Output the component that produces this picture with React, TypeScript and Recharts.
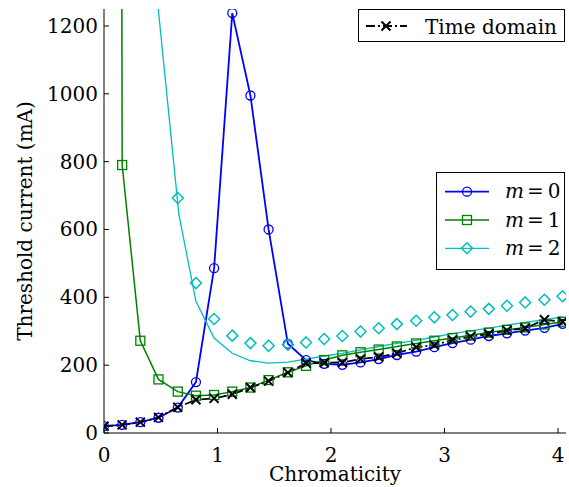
import React from "react";
import { LineChart, Line, XAxis, YAxis } from "recharts";

// ---- data ----
const xs = [0, 0.16, 0.32, 0.48, 0.65, 0.81, 0.97, 1.13, 1.29, 1.45, 1.62, 1.78, 1.94, 2.1, 2.26, 2.42, 2.58, 2.75, 2.91, 3.07, 3.23, 3.39, 3.55, 3.71, 3.88, 4.04];
const timeDomain = [20, 24, 32, 46, 76, 98, 102, 114, 134, 153, 178, 206, 207, 208, 218, 224, 235, 253, 259, 274, 284, 292, 302, 309, 334, 328];
const m0 = [20, 24, 32, 45, 75, 150, 486, 1238, 995, 600, 263, 215, 204, 201, 208, 218, 230, 240, 253, 265, 275, 286, 294, 302, 310, 322];
const m1 = [30000, 790, 272, 158, 122, 110, 112, 122, 134, 156, 179, 198, 215, 229, 238, 246, 255, 264, 272, 280, 288, 296, 304, 311, 320, 328];
const m2LineX = [0.45, 0.66, 0.81, 0.97, 1.13, 1.29, 1.45, 1.62, 1.78, 1.94, 2.1, 2.26, 2.42, 2.58, 2.75, 2.91, 3.07, 3.23, 3.39, 3.55, 3.71, 3.88, 4.04];
const m2Line = [1343, 644, 388, 280, 235, 213, 206, 209, 218, 227, 235, 245, 255, 264, 273, 283, 293, 301, 309, 318, 326, 334, 342];
const m2PointsX = [0.65, 0.81, 0.97, 1.13, 1.29, 1.45, 1.62, 1.78, 1.94, 2.1, 2.26, 2.42, 2.58, 2.75, 2.91, 3.07, 3.23, 3.39, 3.55, 3.71, 3.88, 4.04];
const m2Points = [693, 442, 336, 287, 265, 257, 260, 267, 277, 286, 299, 309, 321, 331, 341, 348, 358, 366, 375, 385, 393, 403];
const xTicks = [0, 1, 2, 3, 4];
const yTicks = [0, 200, 400, 600, 800, 1000, 1200];
const legendLabels = ["0", "1", "2"];

const BLUE = "#0000ff";
const GREEN = "#008000";
const CYAN = "#00bfbf";
const BLACK = "#000000";
const FONT = "DejaVu Serif, DejaVuSerif, Liberation Serif, Times New Roman, serif";

const zip = (x: number[], y: number[]) => x.map((v, i) => ({ x: v, y: y[i] }));
const tdData = zip(xs, timeDomain);
const m0Data = zip(xs, m0);
const m1Data = zip(xs, m1);
const m2LineData = zip(m2LineX, m2Line);
const m2PtData = zip(m2PointsX, m2Points);

const circleShape = (cx: number, cy: number, key?: any) => (
  <circle key={key} cx={cx} cy={cy} r={4.5} fill="none" stroke={BLUE} strokeWidth={1.3} />
);
const squareShape = (cx: number, cy: number, key?: any) => (
  <rect key={key} x={cx - 4.5} y={cy - 4.5} width={9} height={9} fill="none" stroke={GREEN} strokeWidth={1.3} />
);
const diamondShape = (cx: number, cy: number, key?: any) => (
  <path key={key} d={`M${cx},${cy - 5.5}L${cx + 5.5},${cy}L${cx},${cy + 5.5}L${cx - 5.5},${cy}Z`} fill="none" stroke={CYAN} strokeWidth={1.5} />
);
const xShape = (cx: number, cy: number, key?: any) => (
  <path key={key} d={`M${cx - 4.5},${cy - 4.5}L${cx + 4.5},${cy + 4.5}M${cx - 4.5},${cy + 4.5}L${cx + 4.5},${cy - 4.5}`} stroke={BLACK} strokeWidth={2} fill="none" />
);

const mkDot = (fn: any) => (p: any) => {
  if (p.cx == null || p.cy == null || isNaN(p.cx) || isNaN(p.cy)) return <g key={p.index} />;
  return fn(p.cx, p.cy, p.index);
};

const txtStyle = { fontFamily: FONT, fontSize: 20 };

const BottomTick = (p: any) => (
  <g>
    <line x1={p.x} x2={p.x} y1={p.y} y2={p.y - 5} stroke={BLACK} strokeWidth={1} />
    <text x={p.x} y={p.y + 29} textAnchor="middle" style={txtStyle} fill={BLACK}>
      {p.payload.value}
    </text>
  </g>
);
const TopTick = (p: any) => (
  <line x1={p.x} x2={p.x} y1={p.y} y2={p.y + 5} stroke={BLACK} strokeWidth={1} />
);
const LeftTick = (p: any) => (
  <g>
    <line x1={p.x} x2={p.x + 5} y1={p.y} y2={p.y} stroke={BLACK} strokeWidth={1} />
    <text x={p.x - 6} y={p.y + 7} textAnchor="end" style={txtStyle} fill={BLACK}>
      {p.payload.value}
    </text>
  </g>
);
const RightTick = (p: any) => (
  <line x1={p.x} x2={p.x - 5} y1={p.y} y2={p.y} stroke={BLACK} strokeWidth={1} />
);

const X_DOMAIN: [number, number] = [0, 4.07];
const Y_DOMAIN: [number, number] = [0, 1250];

export default function App() {
  const legendRows = [
    { color: BLUE, shape: circleShape, w: 1.8 },
    { color: GREEN, shape: squareShape, w: 1.5 },
    { color: CYAN, shape: diamondShape, w: 1.3 },
  ];
  return (
    <div style={{ position: "absolute", left: 0, top: 0, width: 569, height: 487, background: "#fff", fontFamily: FONT }}>
      <LineChart width={569} height={487} margin={{ top: 9, right: 3, left: 0, bottom: 0 }}>
        <XAxis
          xAxisId={0}
          type="number"
          dataKey="x"
          domain={X_DOMAIN}
          ticks={xTicks}
          allowDataOverflow
          height={54}
          tickSize={0}
          tickMargin={0}
          tickLine={false}
          tick={BottomTick}
          axisLine={{ stroke: BLACK, strokeWidth: 1 }}
          interval={0}
        />
        <XAxis
          xAxisId="top"
          orientation="top"
          type="number"
          dataKey="x"
          domain={X_DOMAIN}
          ticks={xTicks}
          allowDataOverflow
          height={0}
          tickSize={0}
          tickMargin={0}
          tickLine={false}
          tick={TopTick}
          axisLine={{ stroke: BLACK, strokeWidth: 1 }}
          interval={0}
        />
        <YAxis
          yAxisId={0}
          type="number"
          domain={Y_DOMAIN}
          ticks={yTicks}
          allowDataOverflow
          width={104}
          tickSize={0}
          tickMargin={0}
          tickLine={false}
          tick={LeftTick}
          axisLine={{ stroke: BLACK, strokeWidth: 1 }}
          interval={0}
        />
        <YAxis
          yAxisId="right"
          orientation="right"
          type="number"
          domain={Y_DOMAIN}
          ticks={yTicks}
          allowDataOverflow
          width={0}
          tickSize={0}
          tickMargin={0}
          tickLine={false}
          tick={RightTick}
          axisLine={{ stroke: BLACK, strokeWidth: 1 }}
          interval={0}
        />
        <Line data={m0Data} dataKey="y" xAxisId={0} yAxisId={0} stroke={BLUE} strokeWidth={1.8} dot={mkDot(circleShape)} activeDot={false} isAnimationActive={false} type="linear" />
        <Line data={m1Data} dataKey="y" xAxisId={0} yAxisId={0} stroke={GREEN} strokeWidth={1.5} dot={mkDot(squareShape)} activeDot={false} isAnimationActive={false} type="linear" />
        <Line data={m2LineData} dataKey="y" xAxisId={0} yAxisId={0} stroke={CYAN} strokeWidth={1.3} dot={false} activeDot={false} isAnimationActive={false} type="linear" />
        <Line data={m2PtData} dataKey="y" xAxisId={0} yAxisId={0} stroke="none" dot={mkDot(diamondShape)} activeDot={false} isAnimationActive={false} type="linear" />
        <Line data={tdData} dataKey="y" xAxisId={0} yAxisId={0} stroke={BLACK} strokeWidth={1.8} strokeDasharray="9 3 2 3" dot={mkDot(xShape)} activeDot={false} isAnimationActive={false} type="linear" />
      </LineChart>
      <svg width={569} height={487} style={{ position: "absolute", left: 0, top: 0, pointerEvents: "none" }}>
        <text transform="translate(32,221) rotate(-90)" textAnchor="middle" style={txtStyle} fill={BLACK}>
          Threshold current (mA)
        </text>
        <text x={335} y={481} textAnchor="middle" style={txtStyle} fill={BLACK}>
          Chromaticity
        </text>
        {/* legend 1 */}
        <rect x={358.5} y={9.5} width={206} height={32} fill="#fff" stroke={BLACK} strokeWidth={1} />
        <line x1={366} x2={407} y1={26} y2={26} stroke={BLACK} strokeWidth={1.8} strokeDasharray="9 3 2 3" />
        {xShape(386, 26)}
        <text x={425} y={34} style={txtStyle} fill={BLACK}>Time domain</text>
        {/* legend 2 */}
        <rect x={436.5} y={172.5} width={128} height={97} fill="#fff" stroke={BLACK} strokeWidth={1} />
        {legendRows.map((r, i) => {
          const cy = 191.7 + i * 28.3;
          return (
            <g key={i}>
              <line x1={445} x2={489} y1={cy} y2={cy} stroke={r.color} strokeWidth={r.w} />
              {r.shape(467, cy)}
              <text x={505} y={cy + 6.5} style={txtStyle} fill={BLACK}>
                <tspan fontStyle="italic">m</tspan>
                <tspan dx={3}>=</tspan>
                <tspan dx={4}>{legendLabels[i]}</tspan>
              </text>
            </g>
          );
        })}
      </svg>
    </div>
  );
}
